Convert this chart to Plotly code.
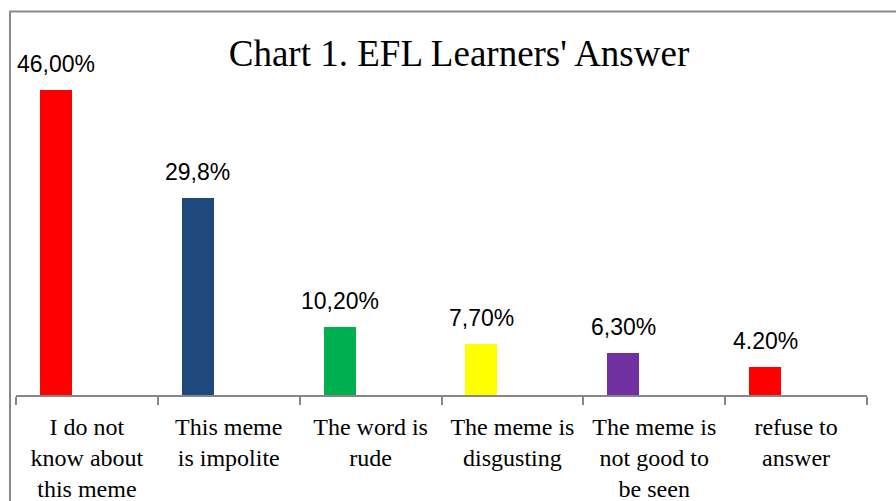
import plotly.graph_objects as go

categories = ["I do not<br>know about<br>this meme", "This meme<br>is impolite", "The word is<br>rude",
              "The meme is<br>disgusting", "The meme is<br>not good to<br>be seen", "refuse to<br>answer"]
values = [46.0, 29.8, 10.2, 7.7, 6.3, 4.2]
labels = ["46,00%", "29,8%", "10,20%", "7,70%", "6,30%", "4.20%"]
colors = ["#FF0000", "#1F497D", "#00B050", "#FFFF00", "#7030A0", "#FF0000"]
title = "Chart 1. EFL Learners' Answer"

BAR_W = 0.225
BAR_OFF = -0.331

fig = go.Figure()
fig.add_trace(go.Bar(
    x=categories, y=values, marker=dict(color=colors, line=dict(width=0)),
    width=BAR_W, offset=BAR_OFF, hoverinfo="skip", showlegend=False,
))

for i, (v, t) in enumerate(zip(values, labels)):
    fig.add_annotation(
        x=i + BAR_OFF + BAR_W / 2, y=v, xref="x", yref="y", text=t, showarrow=False,
        yanchor="bottom", xanchor="center", yshift=11,
        font=dict(family="Liberation Sans, Arial, sans-serif", size=23, color="#000000"),
    )

W, H = 896, 501
L, R, T, B = 16, 29, 63.5, 106
pw, ph = W - L - R, H - T - B

# outer chart border (right and bottom fall outside the canvas)
fig.add_shape(type="rect", xref="paper", yref="paper",
              x0=(10 - L) / pw, x1=(905 - L) / pw,
              y0=-(H + 10 - (H - B)) / ph, y1=((H - B) - 11) / ph,
              line=dict(color="#888888", width=2), fillcolor="rgba(0,0,0,0)", layer="below")

fig.update_layout(
    width=W, height=H,
    margin=dict(l=L, r=R, t=T, b=B, pad=0),
    paper_bgcolor="white", plot_bgcolor="white",
    title=dict(text=title, x=459 / W, xref="container", xanchor="center",
               y=1 - 53 / H, yref="container", yanchor="middle",
               font=dict(family="Liberation Serif, Times New Roman, serif", size=37, color="#000000")),
    xaxis=dict(type="category", range=[-0.5, 5.5], showline=True, linecolor="#868686", linewidth=1.5,
               ticks="outside", tickson="boundaries", ticklen=8, tickcolor="#868686", tickwidth=1.5,
               showgrid=False, zeroline=False, automargin=False, ticklabelstandoff=9, tickangle=0,
               tickfont=dict(family="Liberation Serif, Times New Roman, serif", size=24, color="#000000")),
    yaxis=dict(range=[0, 50], visible=False, showgrid=False, zeroline=False),
    bargap=0,
)

fig.write_html("out.html", config={"displayModeBar": False},
               post_script="document.body.style.margin='0';document.body.style.overflow='hidden';")
